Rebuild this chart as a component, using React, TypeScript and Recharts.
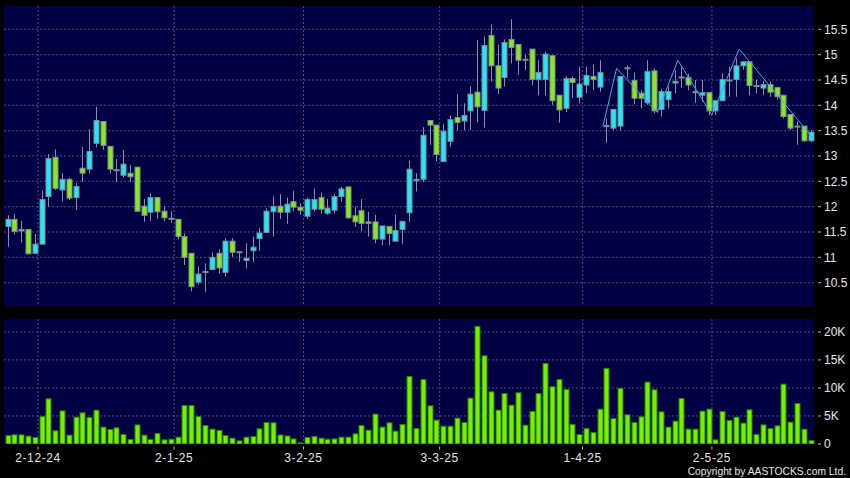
import React from 'react';
import { ComposedChart, Bar, Line, XAxis, YAxis, CartesianGrid } from 'recharts';

const opens = [
  11.61, 11.75, 11.52, 11.55, 11.08, 11.26, 12.2, 12.97, 12.33, 12.54,
  12.18, 12.76, 12.74, 13.25, 13.68, 13.19, 12.73, 12.62, 12.66, 12.78,
  12.01, 11.89, 12.18, 11.91, 11.77, 11.75, 11.41, 11.08, 10.51, 10.7,
  10.76, 11.08, 10.7, 11.32, 11.11, 10.94, 11.13, 11.37, 11.49, 11.9,
  12.01, 11.89, 12.1, 11.99, 11.81, 11.95, 12.18, 11.87, 11.93, 12.2,
  12.39, 11.82, 11.92, 11.7, 11.7, 11.36, 11.61, 11.32, 11.55, 11.88,
  12.51, 12.54, 13.7, 13.61, 12.89, 13.29, 13.76, 13.69, 13.89, 14.26,
  13.9, 15.38, 14.78, 14.55, 15.3, 15.2, 14.91, 15.11, 14.51, 14.51,
  14.98, 14.2, 13.94, 14.53, 14.16, 14.4, 14.57, 14.36, 13.6, 13.55,
  13.59, 14.74, 14.49, 14.24, 14.05, 14.68, 13.92, 14.11, 14.44, 14.56,
  14.55, 14.27, 14.2, 14.25, 13.89, 14.09, 14.5, 14.51, 14.78, 14.86,
  14.39, 14.34, 14.41, 14.35, 14.2, 13.82, 13.59, 13.59, 13.3,
];
const highs = [
  11.83, 11.85, 11.72, 11.56, 11.46, 12.32, 13.04, 13.13, 12.66, 12.57,
  12.47, 13.18, 13.53, 13.97, 13.69, 13.19, 12.94, 13.12, 12.82, 12.78,
  12.15, 12.26, 12.18, 12.0, 11.91, 11.75, 11.47, 11.08, 10.82, 10.88,
  11.1, 11.16, 11.38, 11.38, 11.11, 11.28, 11.41, 11.58, 11.97, 12.2,
  12.25, 12.18, 12.31, 12.07, 12.18, 12.36, 12.28, 12.15, 12.25, 12.39,
  12.39, 12.0, 12.15, 11.9, 11.84, 11.62, 11.61, 11.84, 11.71, 12.91,
  12.66, 13.57, 13.7, 13.61, 13.63, 13.8, 14.22, 14.04, 14.38, 15.29,
  15.36, 15.59, 15.2, 15.3, 15.7, 15.2, 15.0, 15.11, 14.89, 15.06,
  14.98, 14.2, 14.57, 14.57, 14.76, 14.76, 14.8, 14.89, 13.74, 13.92,
  14.57, 14.79, 14.65, 14.3, 14.89, 14.73, 14.32, 14.37, 14.7, 14.76,
  14.63, 14.5, 14.5, 14.25, 14.09, 14.63, 14.76, 14.93, 14.86, 14.86,
  14.5, 14.48, 14.47, 14.37, 14.2, 13.82, 13.68, 13.59, 13.51,
];
const lows = [
  11.21, 11.45, 11.29, 11.06, 11.07, 11.26, 12.0, 12.33, 12.1, 12.13,
  11.93, 12.49, 12.66, 13.17, 13.12, 12.66, 12.48, 12.58, 12.49, 11.91,
  11.7, 11.72, 11.76, 11.72, 11.68, 11.36, 10.85, 10.33, 10.46, 10.32,
  10.76, 10.68, 10.62, 11.01, 10.91, 10.78, 10.91, 11.13, 11.49, 11.41,
  11.76, 11.66, 11.91, 11.84, 11.76, 11.9, 11.86, 11.84, 11.87, 12.1,
  11.76, 11.6, 11.52, 11.41, 11.28, 11.24, 11.24, 11.32, 11.26, 11.7,
  12.3, 12.48, 13.22, 12.89, 12.89, 13.18, 13.51, 13.51, 13.51, 13.66,
  13.56, 14.47, 14.22, 14.37, 14.83, 14.6, 14.7, 14.4, 14.2, 14.2,
  14.01, 13.66, 13.87, 14.14, 14.04, 14.24, 14.3, 14.27, 13.26, 13.51,
  13.51, 14.53, 14.02, 13.94, 14.01, 13.84, 13.78, 13.94, 14.24, 14.35,
  14.3, 14.05, 14.07, 13.81, 13.81, 14.09, 14.17, 14.17, 14.7, 14.2,
  14.24, 14.2, 14.17, 14.11, 13.74, 13.51, 13.22, 13.28, 13.28,
];
const closes = [
  11.75, 11.51, 11.55, 11.07, 11.26, 12.14, 12.95, 12.36, 12.54, 12.17,
  12.4, 12.66, 13.09, 13.7, 13.21, 12.74, 12.72, 12.84, 12.59, 11.91,
  11.83, 12.18, 11.9, 11.78, 11.76, 11.41, 11.0, 10.42, 10.67, 10.72,
  11.0, 10.79, 11.32, 11.1, 11.1, 10.98, 11.2, 11.48, 11.91, 12.0,
  11.89, 12.05, 11.99, 11.93, 12.14, 12.14, 11.95, 11.97, 12.2, 12.35,
  11.78, 11.7, 11.67, 11.67, 11.36, 11.62, 11.47, 11.53, 11.71, 12.74,
  12.54, 13.41, 13.61, 13.03, 13.49, 13.72, 13.66, 13.8, 14.22, 13.97,
  15.18, 14.78, 14.34, 15.24, 15.14, 14.89, 14.9, 14.51, 14.65, 15.01,
  14.09, 13.91, 14.53, 14.45, 14.42, 14.59, 14.51, 14.65, 13.59, 13.92,
  14.57, 14.72, 14.14, 14.14, 14.67, 13.89, 14.27, 14.27, 14.47, 14.55,
  14.4, 14.26, 14.25, 13.89, 14.09, 14.51, 14.5, 14.78, 14.86, 14.39,
  14.38, 14.41, 14.26, 14.17, 13.78, 13.55, 13.58, 13.3, 13.47,
];
// volume in thousands of shares
const volumesK = [
  1.6, 1.73, 1.73, 1.5, 1.25, 5.0, 8.15, 2.44, 6.0, 1.67,
  4.88, 5.65, 4.82, 6.13, 3.1, 2.68, 2.98, 1.79, 0.9, 3.5,
  1.67, 0.9, 1.96, 0.83, 0.95, 1.31, 6.96, 6.96, 5.0, 3.39,
  2.74, 2.5, 1.6, 1.13, 0.65, 1.31, 1.43, 2.8, 3.93, 3.87,
  1.7, 1.52, 1.0, 0.3, 1.25, 1.43, 1.13, 0.95, 1.0, 1.31,
  1.31, 1.9, 3.39, 2.56, 5.42, 3.1, 3.87, 2.38, 3.57, 12.14,
  2.86, 11.6, 6.9, 4.35, 3.27, 3.27, 4.7, 3.93, 8.27, 21.07,
  15.83, 9.4, 6.13, 9.1, 7.02, 9.23, 3.45, 5.89, 9.1, 14.46,
  10.3, 11.6, 9.82, 3.57, 1.79, 2.86, 2.14, 6.31, 13.57, 4.64,
  10.0, 5.3, 3.93, 4.94, 11.13, 9.76, 5.83, 3.1, 4.17, 8.21,
  2.74, 2.74, 5.95, 6.31, 0.83, 5.89, 4.29, 4.88, 3.81, 6.19,
  1.79, 3.5, 2.86, 3.33, 10.77, 3.99, 7.32, 2.74, 0.71,
];
const dateLabels = ['2-12-24', '2-1-25', '3-2-25', '3-3-25', '1-4-25', '2-5-25'];
const dateLabelIndex = [5, 25, 44, 64, 85, 104];
const priceTicks = [10.5, 11, 11.5, 12, 12.5, 13, 13.5, 14, 14.5, 15, 15.5];
const volumeTicks = [0, 5000, 10000, 15000, 20000];
const volumeGrid = [5000, 10000, 15000, 20000];
const zigzagIndex = [88, 90, 96, 99, 104, 108, 119];
const zigzagPrice = [13.59, 14.73, 13.86, 14.89, 13.81, 15.11, 13.33];

const rows = opens.map((o, i) => ({
  i,
  o,
  h: highs[i],
  l: lows[i],
  c: closes[i],
  v: volumesK[i] * 1000,
}));
const zigzagRows = zigzagIndex.map((i, k) => ({ i, z: zigzagPrice[k] }));

const UP = '#25e6f6';
const DOWN = '#86ea1e';
const OUTLINE = '#7d8c92';
const WICK = '#8e8ea6';
const PLOT_BG = '#000042';
const GRID = '#4c4c86';
const TEXT = '#e6e6e6';
const FONT = '"Liberation Sans", Arial, sans-serif';

// volume panel geometry (chart-local coordinates)
const VOL_H = 165;
const VOL_M_BOTTOM = 14;
const VOL_XAXIS_H = 20;
const VOL_PLOT_BOTTOM = VOL_H - VOL_M_BOTTOM - VOL_XAXIS_H;

const Candle = (props: any) => {
  const { x, y, width, height, payload } = props;
  if (!payload || x == null || y == null) return null;
  const { o, h, l, c } = payload;
  const top0 = Math.min(y, y + height);
  const bot0 = Math.max(y, y + height);
  const span = h - l;
  const yOf = (v: number) => (span > 0 ? top0 + ((h - v) / span) * (bot0 - top0) : top0);
  const cx = Math.round(x + width / 2) + 0.5;
  const up = c >= o;
  const bTop = yOf(Math.max(o, c));
  const bBot = yOf(Math.min(o, c));
  const bh = Math.max(bBot - bTop, 1);
  return (
    <g>
      <line x1={cx} x2={cx} y1={top0} y2={bot0} stroke={WICK} strokeWidth={1} />
      <rect
        x={cx - 2.5}
        y={bTop}
        width={5}
        height={bh}
        fill={up ? UP : DOWN}
        stroke={OUTLINE}
        strokeWidth={1}
      />
    </g>
  );
};

const VolBar = (props: any) => {
  const { x, y, width, height } = props;
  if (x == null || y == null || !height) return null;
  const cx = Math.round(x + width / 2) + 0.5;
  return (
    <rect
      x={cx - 2.5}
      y={y + 0.5}
      width={5}
      height={Math.max(height - 0.5, 0)}
      fill="#74f000"
      stroke="#2f7c00"
      strokeWidth={1}
    />
  );
};

const PriceTick = (props: any) => {
  const { x, y, payload } = props;
  return (
    <g>
      <line x1={x + 4} x2={x + 7} y1={y} y2={y} stroke="#bbbbbb" />
      <text x={x + 10} y={y} dy="0.36em" fill={TEXT} fontSize={12} fontFamily={FONT} textAnchor="start">
        {String(payload.value)}
      </text>
    </g>
  );
};

const VolTick = (props: any) => {
  const { x, y, payload } = props;
  const v = payload.value;
  const label = v === 0 ? '0' : `${v / 1000}K`;
  return (
    <g>
      <line x1={x + 4} x2={x + 7} y1={y} y2={y} stroke="#bbbbbb" />
      <text x={x + 10} y={y} dy="0.36em" fill={TEXT} fontSize={12} fontFamily={FONT} textAnchor="start">
        {label}
      </text>
    </g>
  );
};

const DateTick = (props: any) => {
  const { x, payload } = props;
  const k = dateLabelIndex.indexOf(payload.value);
  const label = k >= 0 ? dateLabels[k] : '';
  const base = VOL_PLOT_BOTTOM;
  return (
    <g>
      <line x1={x} x2={x} y1={base + 2.5} y2={base + 5.5} stroke="#bbbbbb" />
      <text
        x={x}
        y={base + 13.5}
        dy="0.36em"
        fill={TEXT}
        fontSize={12}
        fontFamily={FONT}
        textAnchor="middle"
        style={{ letterSpacing: '0.6px' }}
      >
        {label}
      </text>
    </g>
  );
};

export default function App() {
  return (
    <div
      style={{
        position: 'absolute',
        left: 0,
        top: 0,
        width: 850,
        height: 478,
        background: '#000000',
        overflow: 'hidden',
      }}
    >
      <div style={{ position: 'absolute', left: 0, top: 0 }}>
        <ComposedChart
          width={850}
          height={306}
          data={rows}
          margin={{ top: 6, right: 0, bottom: 0, left: 4 }}
          barCategoryGap={0}
          barGap={0}
        >
          <CartesianGrid
            xAxisId="num"
            yAxisId="p"
            stroke={GRID}
            strokeDasharray="2 2"
            fill={PLOT_BG}
            fillOpacity={1}
            verticalValues={dateLabelIndex}
            horizontalValues={priceTicks}
          />
          <XAxis xAxisId="cat" dataKey="i" type="category" hide />
          <XAxis
            xAxisId="num"
            dataKey="i"
            type="number"
            domain={[0, 119]}
            ticks={dateLabelIndex}
            allowDataOverflow
            hide
          />
          <YAxis
            yAxisId="p"
            orientation="right"
            width={36}
            domain={[10.04, 15.96]}
            ticks={priceTicks}
            interval={0}
            allowDataOverflow
            axisLine={false}
            tickLine={false}
            tickSize={0}
            tickMargin={0}
            tick={<PriceTick />}
          />
          <Bar
            xAxisId="cat"
            yAxisId="p"
            dataKey={(d: any) => [d.l, d.h]}
            shape={(p: any) => <Candle {...p} />}
            isAnimationActive={false}
          />
          <Line
            xAxisId="num"
            yAxisId="p"
            data={zigzagRows}
            dataKey="z"
            stroke="#4da6e8"
            strokeWidth={1}
            dot={false}
            activeDot={false}
            isAnimationActive={false}
          />
        </ComposedChart>
      </div>
      <div style={{ position: 'absolute', left: 0, top: 313 }}>
        <ComposedChart
          width={850}
          height={VOL_H}
          data={rows}
          margin={{ top: 6, right: 0, bottom: VOL_M_BOTTOM, left: 4 }}
          barCategoryGap={0}
          barGap={0}
        >
          <CartesianGrid
            xAxisId="num"
            yAxisId="v"
            stroke={GRID}
            strokeDasharray="2 2"
            fill={PLOT_BG}
            fillOpacity={1}
            verticalValues={dateLabelIndex}
            horizontalValues={volumeGrid}
          />
          <XAxis xAxisId="cat" dataKey="i" type="category" hide />
          <XAxis
            xAxisId="num"
            dataKey="i"
            type="number"
            domain={[0, 119]}
            ticks={dateLabelIndex}
            interval={0}
            allowDataOverflow
            height={VOL_XAXIS_H}
            axisLine={false}
            tickLine={false}
            tickSize={0}
            tickMargin={0}
            tick={<DateTick />}
          />
          <YAxis
            yAxisId="v"
            orientation="right"
            width={36}
            domain={[0, 22300]}
            ticks={volumeTicks}
            interval={0}
            allowDataOverflow
            axisLine={false}
            tickLine={false}
            tickSize={0}
            tickMargin={0}
            tick={<VolTick />}
          />
          <Bar
            xAxisId="cat"
            yAxisId="v"
            dataKey="v"
            shape={(p: any) => <VolBar {...p} />}
            isAnimationActive={false}
          />
        </ComposedChart>
      </div>
      <div
        style={{
          position: 'absolute',
          right: 4,
          top: 465,
          fontFamily: FONT,
          fontSize: 10.3,
          lineHeight: '13px',
          color: TEXT,
          whiteSpace: 'nowrap',
        }}
      >
        Copyright by AASTOCKS.com Ltd.
      </div>
    </div>
  );
}
